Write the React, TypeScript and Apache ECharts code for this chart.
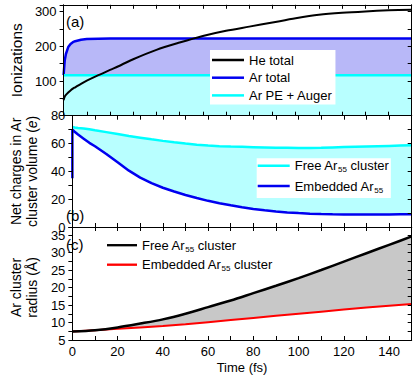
import React, { useEffect, useRef } from 'react';
import * as echarts from 'echarts';

// ---------- Panel (a): ionizations ----------
const timeA = [0, 0.5, 1, 2, 3, 4, 5, 7.5, 10, 15, 20, 25, 30, 40, 50, 60, 70, 80, 90, 100, 110, 120, 130, 140, 150];
const heTotal = [45, 55, 60, 67, 73, 78, 82, 92, 101, 117, 132, 147, 163, 190, 211, 230, 245, 257, 269, 281, 291, 297, 301, 304, 306];
const arTotal = [117, 160, 178, 198, 207, 212, 215, 219, 221, 222, 223, 223, 223, 223, 223, 223, 223, 223, 223, 223, 223, 223, 223, 223, 223];
const arPeAuger = [117, 117, 117, 117, 117, 117, 117, 117, 117, 117, 117, 117, 117, 117, 117, 117, 117, 117, 117, 117, 117, 117, 117, 117, 117];

// ---------- Panel (b): net charges ----------
const timeB = [0, 1, 2.5, 5, 7.5, 10, 15, 20, 25, 30, 35, 40, 45, 50, 55, 60, 65, 70, 75, 80, 85, 90, 95, 100, 105, 110, 115, 120, 125, 130, 135, 140, 145, 150];
const freeCharge = [72, 71.5, 71.2, 70.8, 70.2, 69.5, 68.2, 66.8, 65.4, 64.2, 63, 61.9, 60.9, 60, 59.2, 58.6, 58.1, 57.8, 57.6, 57.4, 57.2, 57, 56.9, 56.8, 56.8, 56.9, 57.2, 57.5, 57.7, 57.9, 58.1, 58.3, 58.5, 58.7];
const embeddedCharge = [70, 68.5, 66.5, 63.5, 60.5, 58, 52.5, 46.5, 40.5, 35.5, 31.5, 28.2, 25.5, 23, 20.8, 18.8, 17.1, 15.6, 14.2, 13, 12, 11.2, 10.5, 10, 9.6, 9.3, 9.1, 9, 8.9, 8.9, 8.9, 9, 9.1, 9.2];
const embeddedChargeStart = 35;

// ---------- Panel (c): cluster radius ----------
const timeC = [0, 10, 20, 30, 40, 50, 60, 70, 80, 90, 100, 110, 120, 130, 140, 150];
const freeRadius = [7.4, 7.8, 8.6, 9.7, 10.9, 12.5, 14.4, 16.3, 18.4, 20.5, 22.7, 25, 27.4, 29.8, 32.2, 34.6];
const embeddedRadius = [7.4, 7.8, 8.2, 8.6, 9.0, 9.5, 10.1, 10.7, 11.3, 11.9, 12.5, 13.1, 13.7, 14.3, 14.8, 15.3];

const font = 'Liberation Sans, Arial, Helvetica, sans-serif';
const lineIcon = 'path://M0,0H32V2.5H0Z';

const pairs = (xs: number[], ys: number[]) => xs.map((x, i) => [x, ys[i]]);

const legendText: Record<string, string> = {
  freeB: '{t|Free Ar}{s|55}{t| cluster}',
  embB: '{t|Embedded Ar}{s|55}',
  freeC: '{t|Free Ar}{s|55}{t| cluster}',
  embC: '{t|Embedded Ar}{s|55}{t| cluster}',
};
const richLegend = {
  t: { fontSize: 13, lineHeight: 16, color: '#000', fontFamily: font },
  s: { fontSize: 8, lineHeight: 8, verticalAlign: 'bottom', color: '#000', fontFamily: font },
};

const grids = [
  { left: 62, width: 349.7, top: 4.8, height: 110.9 },
  { left: 62, width: 349.7, top: 115.7, height: 111.3 },
  { left: 62, width: 349.7, top: 227, height: 113 },
];

const xAx = (g: number, pos: string, labels: boolean) => ({
  type: 'value',
  gridIndex: g,
  position: pos,
  min: 0,
  max: 150,
  interval: 10,
  z: 5,
  axisLine: { show: true, onZero: false, lineStyle: { color: '#000', width: 1 } },
  axisTick: { show: true, inside: true, length: 4, lineStyle: { color: '#000', width: 1 } },
  splitLine: { show: false },
  axisLabel: {
    show: labels,
    margin: 5,
    fontSize: 13,
    color: '#000',
    fontFamily: font,
    formatter: (v: number) => (v % 20 === 0 ? String(v) : ''),
  },
  name: labels ? 'Time (fs)' : '',
  nameLocation: 'middle',
  nameGap: 21,
  nameTextStyle: { fontSize: 13, color: '#000', fontFamily: font },
});

const yAx = (
  g: number,
  pos: string,
  min: number,
  max: number,
  interval: number,
  fmt: (v: number) => string,
  name: string,
  nameGap: number,
  nameSize = 14,
  namePad: number[] = [0, 0, 0, 0]
) => ({
  type: 'value',
  gridIndex: g,
  position: pos,
  min,
  max,
  interval,
  z: 5,
  axisLine: { show: true, onZero: false, lineStyle: { color: '#000', width: 1 } },
  axisTick: { show: true, inside: pos === 'right', length: 4, lineStyle: { color: '#000', width: 1 } },
  splitLine: { show: false },
  axisLabel: { show: pos === 'left', margin: 7, fontSize: 13, color: '#000', fontFamily: font, formatter: fmt },
  name: pos === 'left' ? name : '',
  nameLocation: 'middle',
  nameGap,
  nameTextStyle: {
    fontSize: nameSize,
    lineHeight: 16,
    color: '#000',
    fontFamily: font,
    padding: namePad,
    rich: { i: { fontSize: nameSize, lineHeight: 16, fontStyle: 'italic', color: '#000', fontFamily: font } },
  },
});

const fmtA = (v: number) => (v > 0 && v % 100 === 0 ? String(v) : '');
const fmtB = (v: number) => (v % 20 === 0 && v <= 80 ? String(v) : '');
const fmtC = (v: number) => (v % 5 === 0 ? String(v) : '');

const App: React.FC = () => {
  const ref = useRef<HTMLDivElement>(null);

  useEffect(() => {
    if (!ref.current) return;
    const chart = echarts.init(ref.current, undefined, { renderer: 'svg' });
    const option: any = {
      animation: false,
      backgroundColor: '#fff',
      grid: grids,
      title: [
        { text: '(a)', left: 66, top: 13.5, padding: 0, z: 10, textStyle: { fontSize: 15, fontWeight: 'normal', color: '#000', fontFamily: font } },
        { text: '(b)', left: 66, top: 208, padding: 0, z: 10, textStyle: { fontSize: 15, fontWeight: 'normal', color: '#000', fontFamily: font } },
        { text: '(c)', left: 66, top: 236.5, padding: 0, z: 10, textStyle: { fontSize: 15, fontWeight: 'normal', color: '#000', fontFamily: font } },
      ],
      xAxis: [
        xAx(0, 'bottom', false),
        xAx(0, 'top', false),
        xAx(1, 'bottom', false),
        xAx(1, 'top', false),
        xAx(2, 'bottom', true),
        xAx(2, 'top', false),
      ],
      yAxis: [
        yAx(0, 'left', 0, 320, 50, fmtA, 'Ionizations', 35, 15.5),
        yAx(0, 'right', 0, 320, 50, fmtA, '', 0),
        yAx(1, 'left', 0, 80, 10, fmtB, 'Net charges in Ar\ncluster volume ({i|e})', 26),
        yAx(1, 'right', 0, 80, 10, fmtB, '', 0),
        yAx(2, 'left', 5, 37.3, 2.5, fmtC, 'Ar cluster\nradius (Å)', 25, 14, [0, 8, 0, 0]),
        yAx(2, 'right', 5, 37.3, 2.5, fmtC, '', 0),
      ],
      legend: [
        {
          data: ['He total', 'Ar total', 'Ar PE + Auger'],
          orient: 'vertical',
          left: 210,
          top: 50,
          padding: [3, 3, 2, 2],
          itemGap: 3.7,
          itemWidth: 32,
          itemHeight: 14,
          icon: lineIcon,
          backgroundColor: '#fff',
          selectedMode: false,
          textStyle: { fontSize: 13, lineHeight: 14, color: '#000', fontFamily: font },
        },
        {
          data: ['freeB', 'embB'],
          orient: 'vertical',
          left: 256.7,
          top: 158.3,
          padding: [1, 2, 4, 1],
          itemGap: 5.7,
          itemWidth: 32,
          itemHeight: 16,
          icon: lineIcon,
          backgroundColor: '#fff',
          selectedMode: false,
          formatter: (n: string) => legendText[n],
          textStyle: { fontSize: 13, color: '#000', fontFamily: font, rich: richLegend },
        },
        {
          data: ['freeC', 'embC'],
          orient: 'vertical',
          left: 107,
          top: 238.7,
          padding: 0,
          itemGap: 5,
          itemWidth: 30,
          itemHeight: 16,
          icon: lineIcon,
          selectedMode: false,
          formatter: (n: string) => legendText[n],
          textStyle: { fontSize: 13, color: '#000', fontFamily: font, rich: richLegend },
        },
      ],
      series: [
        // Panel (a)
        {
          type: 'line', name: 'Ar total', xAxisIndex: 0, yAxisIndex: 0, data: pairs(timeA, arTotal),
          symbol: 'none', color: '#0000f0', lineStyle: { width: 2.5, color: '#0000f0' },
          areaStyle: { color: '#b8b8f8', opacity: 1 }, z: 2,
        },
        {
          type: 'line', name: 'Ar PE + Auger', xAxisIndex: 0, yAxisIndex: 0, data: pairs(timeA, arPeAuger),
          symbol: 'none', color: '#00ffff', lineStyle: { width: 2.5, color: '#00ffff' },
          areaStyle: { color: '#b8ffff', opacity: 1 }, z: 3,
        },
        {
          type: 'line', name: 'He total', xAxisIndex: 0, yAxisIndex: 0, data: pairs(timeA, heTotal),
          symbol: 'none', smooth: 0.3, color: '#000', lineStyle: { width: 2, color: '#000' }, z: 4,
        },
        // Panel (b): cyan fill under the free-cluster curve, white fill under the embedded curve
        {
          type: 'line', name: '_bFill', xAxisIndex: 2, yAxisIndex: 2, data: pairs(timeB, freeCharge),
          symbol: 'none', lineStyle: { width: 0, opacity: 0 }, areaStyle: { color: '#b8ffff', opacity: 1 }, silent: true, z: 1,
        },
        {
          type: 'line', name: '_bMask', xAxisIndex: 2, yAxisIndex: 2, data: pairs(timeB, embeddedCharge),
          symbol: 'none', lineStyle: { width: 0, opacity: 0 }, areaStyle: { color: '#ffffff', opacity: 1 }, silent: true, z: 2,
        },
        {
          type: 'line', name: 'freeB', xAxisIndex: 2, yAxisIndex: 2, data: pairs(timeB, freeCharge),
          symbol: 'none', color: '#00ffff', lineStyle: { width: 2.5, color: '#00ffff' }, z: 3,
        },
        {
          type: 'line', name: 'embB', xAxisIndex: 2, yAxisIndex: 2,
          data: [[timeB[0], embeddedChargeStart], ...pairs(timeB, embeddedCharge)],
          symbol: 'none', color: '#0000f0', lineStyle: { width: 2.5, color: '#0000f0' }, z: 4,
        },
        // Panel (c): grey fill under the free-cluster curve, white fill under the embedded curve
        {
          type: 'line', name: '_cFill', xAxisIndex: 4, yAxisIndex: 4, data: pairs(timeC, freeRadius),
          symbol: 'none', smooth: 0.3, lineStyle: { width: 0, opacity: 0 }, areaStyle: { color: '#c8c8c8', opacity: 1, origin: 'start' }, silent: true, z: 1,
        },
        {
          type: 'line', name: '_cMask', xAxisIndex: 4, yAxisIndex: 4, data: pairs(timeC, embeddedRadius),
          symbol: 'none', lineStyle: { width: 0, opacity: 0 }, areaStyle: { color: '#ffffff', opacity: 1, origin: 'start' }, silent: true, z: 2,
        },
        {
          type: 'line', name: 'freeC', xAxisIndex: 4, yAxisIndex: 4, data: pairs(timeC, freeRadius),
          symbol: 'none', smooth: 0.3, color: '#000', lineStyle: { width: 2.5, color: '#000' }, z: 4,
        },
        {
          type: 'line', name: 'embC', xAxisIndex: 4, yAxisIndex: 4, data: pairs(timeC, embeddedRadius),
          symbol: 'none', color: '#ff0000', lineStyle: { width: 2, color: '#ff0000' }, z: 3,
        },
      ],
    };
    chart.setOption(option);
    return () => chart.dispose();
  }, []);

  return <div ref={ref} style={{ position: 'fixed', left: 0, top: 0, width: 415, height: 380 }} />;
};

export default App;
